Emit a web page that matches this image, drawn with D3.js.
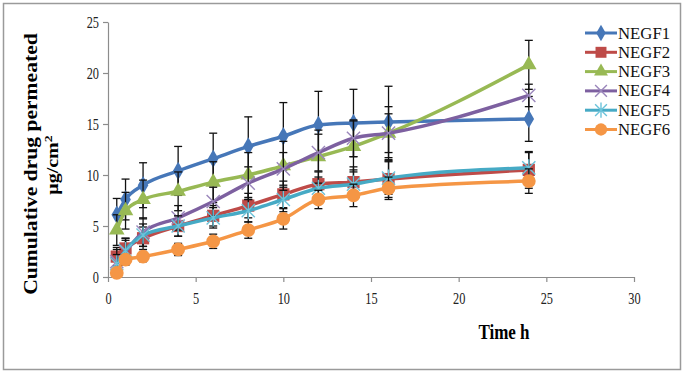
<!DOCTYPE html>
<html>
<head>
<meta charset="utf-8">
<script src="https://cdn.jsdelivr.net/npm/d3@7"></script>
<style>
  body { margin: 0; background: #fff; }
  text { font-family: "Liberation Serif", "Times New Roman", serif; }
</style>
</head>
<body>
<svg id="chart" width="685" height="374"></svg>
<script>
// time points (h)
var times = [0.5, 1, 2, 4, 6, 8, 10, 12, 14, 16, 24];
var names = ["NEGF1", "NEGF2", "NEGF3", "NEGF4", "NEGF5", "NEGF6"];
var colors = ["#4677b8", "#be4b48", "#98b954", "#7d60a0", "#46aac5", "#f59645"];
var shapes = ["diamond", "square", "triangle", "x", "star", "circle"];

// cumulative drug permeated, ug/cm2
var negf1 = [6.1, 7.6, 9.0, 10.4, 11.6, 12.8, 13.8, 14.9, 15.1, 15.2, 15.5];
var negf2 = [2.0, 2.8, 3.8, 5.0, 6.0, 7.0, 8.1, 9.1, 9.3, 9.6, 10.5];
var negf3 = [4.6, 6.5, 7.6, 8.4, 9.3, 10.0, 10.9, 11.8, 12.8, 14.1, 20.8];
var negf4 = [1.5, 2.5, 4.4, 5.8, 7.4, 9.2, 10.6, 12.2, 13.6, 14.1, 17.8];
var negf5 = [1.3, 2.6, 4.1, 5.0, 5.8, 6.5, 7.6, 8.7, 9.1, 9.7, 10.7];
var negf6 = [0.4, 1.7, 2.0, 2.7, 3.5, 4.6, 5.7, 7.6, 8.0, 8.7, 9.4];

// standard deviations (error bars)
var sd1 = [1.6, 2.0, 2.2, 2.4, 2.5, 2.9, 3.3, 3.3, 3.3, 3.5, 2.2];
var sd2 = [0.9, 1.0, 1.1, 1.0, 1.0, 1.2, 1.3, 1.2, 1.5, 1.8, 1.8];
var sd3 = [1.5, 1.8, 1.9, 1.9, 2.0, 2.2, 2.4, 2.6, 2.5, 2.6, 2.4];
var sd4 = [1.2, 1.3, 1.4, 1.2, 1.4, 1.6, 1.6, 1.8, 1.8, 1.9, 1.1];
var sd5 = [0.9, 1.0, 1.1, 1.0, 1.0, 1.1, 1.2, 1.1, 1.4, 1.6, 1.5];
var sd6 = [0.3, 0.5, 0.5, 0.6, 0.7, 0.8, 1.0, 0.9, 1.1, 1.1, 1.2];

var xTicks = [0, 5, 10, 15, 20, 25, 30];
var yTicks = [0, 5, 10, 15, 20, 25];

var values = [negf1, negf2, negf3, negf4, negf5, negf6];
var sds = [sd1, sd2, sd3, sd4, sd5, sd6];

var svg = d3.select("#chart");

// outer frame
svg.append("rect")
   .attr("x", 3.5).attr("y", 3.5)
   .attr("width", 677).attr("height", 366)
   .attr("fill", "none")
   .attr("stroke", "#9a9a9a")
   .attr("stroke-width", 1.5);

var x = d3.scaleLinear().domain([0, 30]).range([108, 634]);
var y = d3.scaleLinear().domain([0, 25]).range([277, 22]);

// axes
var xAxis = svg.append("g")
   .attr("transform", "translate(0,277)")
   .call(d3.axisBottom(x).tickValues(xTicks).tickSize(5).tickSizeOuter(0));
var yAxis = svg.append("g")
   .attr("transform", "translate(108,0)")
   .call(d3.axisLeft(y).tickValues(yTicks).tickSize(5).tickSizeOuter(0));

[xAxis, yAxis].forEach(function(a){
  a.selectAll("path, line").attr("stroke", "#8c8c8c").attr("stroke-width", 1.2);
  a.selectAll("text").style("font-family", "'Liberation Serif', serif")
   .style("font-size", "13px").attr("fill", "#222");
});
// tall, narrow looking tick labels like the original
xAxis.selectAll("text").attr("y", 0).attr("dy", 0)
   .attr("transform", "translate(0,27) scale(0.95,1.35)");
yAxis.selectAll("text").attr("x", 0).attr("dy", 0)
   .attr("transform", "translate(-9,5) scale(0.95,1.35)");

// marker symbol generator
function marker(shape, s) {
  if (shape == "diamond") return d3.symbol().type(d3.symbolDiamond).size(s * 6.5)();
  if (shape == "square") return d3.symbol().type(d3.symbolSquare).size(s * 10)();
  if (shape == "triangle") return d3.symbol().type(d3.symbolTriangle).size(s * 7)();
  if (shape == "circle") return d3.symbol().type(d3.symbolCircle).size(s * 10)();
  var r = Math.sqrt(s) * 1.7;
  if (shape == "x") return "M" + -r + "," + -r + "L" + r + "," + r + "M" + -r + "," + r + "L" + r + "," + -r;
  // star / asterisk
  return "M" + -r + "," + -r + "L" + r + "," + r + "M" + -r + "," + r + "L" + r + "," + -r +
         "M0," + (-r * 1.3) + "L0," + (r * 1.3);
}

var line = d3.line()
   .x(function(d){ return x(d.t); })
   .y(function(d){ return y(d.v); })
   .curve(d3.curveMonotoneX);

for (var k = 0; k < names.length; k++) {
  var pts = times.map(function(t, i){ return {t: t, v: values[k][i], e: sds[k][i]}; });
  var g = svg.append("g").attr("class", "series");

  g.append("path")
   .datum(pts)
   .attr("d", line)
   .attr("fill", "none")
   .attr("stroke", colors[k])
   .attr("stroke-width", 3.5);

  // error bars
  var eb = g.selectAll(".eb").data(pts).enter().append("g").attr("class", "eb");
  eb.append("line")
    .attr("x1", function(d){ return x(d.t); }).attr("x2", function(d){ return x(d.t); })
    .attr("y1", function(d){ return y(d.v + d.e); }).attr("y2", function(d){ return y(d.v - d.e); })
    .attr("stroke", "#111").attr("stroke-width", 1.3);
  [1, -1].forEach(function(sgn){
    eb.append("line")
      .attr("x1", function(d){ return x(d.t) - 4; }).attr("x2", function(d){ return x(d.t) + 4; })
      .attr("y1", function(d){ return y(d.v + sgn * d.e); }).attr("y2", function(d){ return y(d.v + sgn * d.e); })
      .attr("stroke", "#111").attr("stroke-width", 1.3);
  });

  var open = (shapes[k] == "x" || shapes[k] == "star");
  g.selectAll(".mk").data(pts).enter().append("path")
   .attr("class", "mk")
   .attr("transform", function(d){ return "translate(" + x(d.t) + "," + y(d.v) + ")"; })
   .attr("d", marker(shapes[k], 15))
   .attr("fill", open ? "none" : colors[k])
   .attr("stroke", open ? (shapes[k] == "x" ? "#9a86bb" : "#6cc3da") : "none")
   .attr("stroke-width", 1.4);
}

// legend
var legend = svg.append("g");
names.forEach(function(n, i){
  var ly = 33 + i * 19.3;
  legend.append("line")
    .attr("x1", 585).attr("x2", 617).attr("y1", ly).attr("y2", ly)
    .attr("stroke", colors[i]).attr("stroke-width", 3);
  var open = (shapes[i] == "x" || shapes[i] == "star");
  legend.append("path")
    .attr("transform", "translate(601," + ly + ")")
    .attr("d", marker(shapes[i], 12))
    .attr("fill", open ? "none" : colors[i])
    .attr("stroke", open ? (shapes[i] == "x" ? "#9a86bb" : "#6cc3da") : "none")
    .attr("stroke-width", 1.4);
  legend.append("text")
    .attr("transform", "translate(618," + (ly + 5.5) + ") scale(1.08,1.05)")
    .style("font-size", "15.5px")
    .attr("fill", "#111")
    .text(n);
});

// axis titles
svg.append("text")
   .attr("transform", "translate(37,164) rotate(-90) scale(1.2,1)")
   .attr("text-anchor", "middle")
   .style("font-size", "18px").style("font-weight", "bold")
   .text("Cumulative drug permeated");
svg.append("text")
   .attr("transform", "translate(58,165) rotate(-90) scale(1.25,1)")
   .attr("text-anchor", "middle")
   .style("font-size", "16px").style("font-weight", "bold")
   .html("μg/cm<tspan dy='-6' font-size='11px'>2</tspan>");

svg.append("text")
   .attr("transform", "translate(504,339) scale(1,1.25)")
   .attr("text-anchor", "middle")
   .style("font-size", "17px").style("font-weight", "bold")
   .text("Time h");
</script>
</body>
</html>
